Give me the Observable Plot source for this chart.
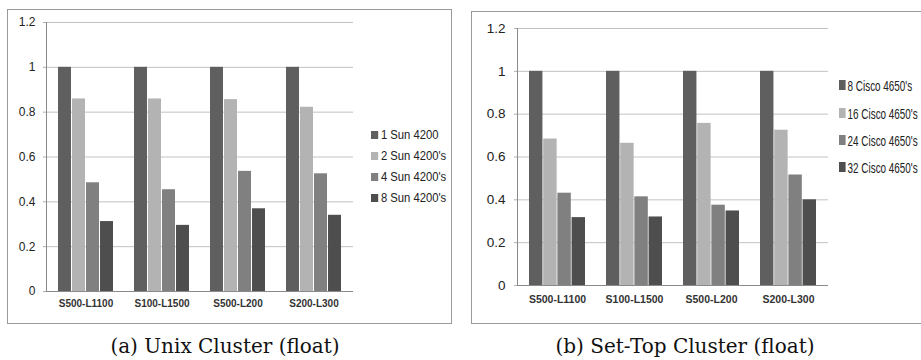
<!DOCTYPE html>
<html><head><meta charset="utf-8">
<script src="https://cdn.jsdelivr.net/npm/d3@7"></script>
<script src="https://cdn.jsdelivr.net/npm/@observablehq/plot@0.6"></script>
<style>
body{margin:0;background:#fff;width:921px;height:360px;overflow:hidden;position:relative;}
.panel{position:absolute;border:1px solid #9a9a9a;box-sizing:border-box;overflow:hidden;background:#fff}
.panel svg{position:absolute;left:0;top:0}
.item{position:absolute;white-space:nowrap;display:flex;align-items:center;font-family:"Liberation Sans",sans-serif;color:#222;transform-origin:left center}
.sw{display:inline-block;margin-right:3px}
.cap{position:absolute;font-family:"DejaVu Serif","Liberation Serif",serif;font-size:20px;text-align:center;white-space:nowrap;color:#111}
</style></head><body>
<script>
const categories = ["S500-L1100", "S100-L1500", "S500-L200", "S200-L300"];
const yTicks = [0, 0.2, 0.4, 0.6, 0.8, 1, 1.2];

const unixSeries = ["1 Sun 4200", "2 Sun 4200's", "4 Sun 4200's", "8 Sun 4200's"];
const unix1 = [1, 1, 1, 1];
const unix2 = [0.859, 0.859, 0.856, 0.822];
const unix4 = [0.485, 0.454, 0.536, 0.525];
const unix8 = [0.312, 0.295, 0.369, 0.340];

const stbSeries = ["8 Cisco 4650's", "16 Cisco 4650's", "24 Cisco 4650's", "32 Cisco 4650's"];
const stb8 = [1, 1, 1, 1];
const stb16 = [0.684, 0.664, 0.757, 0.725];
const stb24 = [0.431, 0.414, 0.375, 0.516];
const stb32 = [0.317, 0.320, 0.348, 0.400];

const colors = ["#5f5f5f", "#b3b3b3", "#808080", "#4e4e4e"];
const captions = ["(a) Unix Cluster (float)", "(b) Set-Top Cluster (float)"];

function makePanel(cfg) {
  const {series, values, box, width, height, ml, mr, mt, mb, tickFont, tickPad, xFont, xPad, legend} = cfg;
  const data = [];
  series.forEach((s, i) => categories.forEach((c, j) => data.push({cat: c, series: s, si: i, value: values[i][j]})));
  const padIn = 0.27, padOut = 0.135;
  const range = width - ml - mr;
  const step = range / (categories.length - padIn + 2 * padOut);
  const sub = step * (1 - padIn) / series.length;
  const font = "Liberation Sans, sans-serif";
  const marks = [
    Plot.gridY(yTicks, {stroke: "#c2c2c2", strokeOpacity: 1}),
    Plot.axisY({ticks: yTicks, tickSize: 3, tickPadding: tickPad, stroke: "#b0b0b0", fill: "#222",
      tickFormat: d => String(+d.toFixed(1)), fontSize: tickFont, fontFamily: font, label: null}),
    Plot.axisX({tickSize: 0, tickPadding: xPad, fontSize: xFont, fontWeight: "bold", fill: "#333",
      fontFamily: font, label: null}),
    ...series.map((s, i) => Plot.barY(data.filter(d => d.si === i), {
      x: "cat", y: "value", fill: colors[i],
      insetLeft: i * sub, insetRight: (series.length - 1 - i) * sub
    })),
    Plot.ruleY([0], {stroke: "#8a8a8a"}),
    Plot.frame({anchor: "left", stroke: "#8a8a8a"})
  ];
  const svg = Plot.plot({
    width, height, marginLeft: ml, marginRight: mr, marginTop: mt, marginBottom: mb,
    x: {domain: categories, paddingInner: padIn, paddingOuter: padOut, axis: null},
    y: {domain: [0, 1.2], axis: null},
    marks
  });
  const panel = document.createElement("div");
  panel.className = "panel";
  Object.assign(panel.style, {left: box[0] + "px", top: box[1] + "px", width: box[2] + "px", height: box[3] + "px"});
  panel.appendChild(svg);
  series.forEach((s, i) => {
    const it = document.createElement("div");
    it.className = "item";
    const lh = 18;
    Object.assign(it.style, {left: legend.x + "px", top: (legend.y[i] - lh / 2) + "px", height: lh + "px",
      fontSize: legend.font + "px", transform: `scaleX(${legend.sx})`});
    const sw = document.createElement("span");
    sw.className = "sw";
    Object.assign(sw.style, {width: legend.sw + "px", height: legend.sw + "px", background: colors[i]});
    it.appendChild(sw);
    it.appendChild(document.createTextNode(s));
    panel.appendChild(it);
  });
  document.body.appendChild(panel);
}

makePanel({
  series: unixSeries, values: [unix1, unix2, unix4, unix8],
  box: [7, 9, 445, 315], width: 443, height: 313, ml: 38, mr: 98, mt: 12, mb: 32,
  tickFont: 12, tickPad: 8, xFont: 10, xPad: 8,
  legend: {x: 363, y: [125, 146, 167, 188], font: 12.5, sw: 8, sx: 0.9}
});
makePanel({
  series: stbSeries, values: [stb8, stb16, stb24, stb32],
  box: [471, 11, 470, 313], width: 468, height: 311, ml: 45, mr: 112, mt: 16, mb: 38,
  tickFont: 13.5, tickPad: 9, xFont: 10.5, xPad: 10,
  legend: {x: 367, y: [73, 101, 128, 155], font: 15, sw: 10, sx: 0.66}
});

[[225, captions[0]], [685, captions[1]]].forEach(([cx, t]) => {
  const d = document.createElement("div");
  d.className = "cap";
  d.textContent = t;
  Object.assign(d.style, {left: (cx - 200) + "px", width: "400px", top: "333px", lineHeight: "26px"});
  document.body.appendChild(d);
});
</script>
</body></html>
